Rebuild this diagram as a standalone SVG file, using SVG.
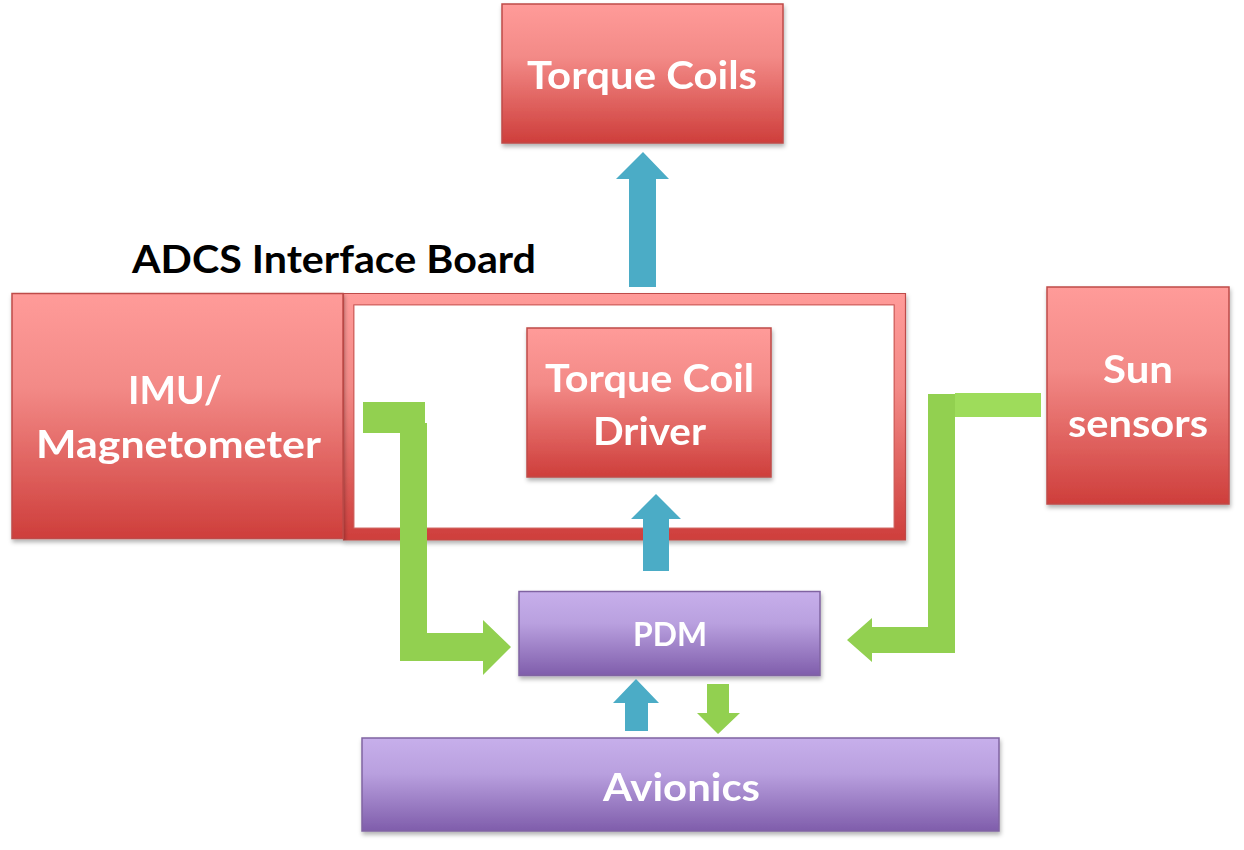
<svg xmlns="http://www.w3.org/2000/svg" width="1244" height="850" viewBox="0 0 1244 850">
<defs>
<linearGradient id="gRed" x1="0" y1="0" x2="0" y2="1">
<stop offset="0" stop-color="#ff9b99"/>
<stop offset="0.38" stop-color="#f38a87"/>
<stop offset="1" stop-color="#ce3e3b"/>
</linearGradient>
<linearGradient id="gPur" x1="0" y1="0" x2="0" y2="1">
<stop offset="0" stop-color="#c7afeb"/>
<stop offset="0.38" stop-color="#b9a0df"/>
<stop offset="1" stop-color="#7f5dab"/>
</linearGradient>
<filter id="sh" x="-5%" y="-5%" width="112%" height="115%">
<feDropShadow dx="1" dy="3" stdDeviation="2" flood-color="#000" flood-opacity="0.3"/>
</filter>
</defs>
<style>
.red{fill:url(#gRed);stroke:#be4b48;stroke-width:1.5}
.pur{fill:url(#gPur);stroke:#8064a2;stroke-width:1.5}
.lbl{font-family:Lato,"Liberation Sans",sans-serif;font-weight:bold;fill:#fff;font-size:39px;text-anchor:middle}
.blue{fill:#4bacc6}
.green{fill:#92d050}
</style>
<rect width="1244" height="850" fill="#fff"/>

<g id="torque-coils" filter="url(#sh)">
<rect class="red" x="502" y="4" width="281" height="139"/>
<text class="lbl" x="642" y="89" textLength="230" lengthAdjust="spacingAndGlyphs">Torque Coils</text>
</g>

<g id="adcs-board">
<path filter="url(#sh)" fill="url(#gRed)" fill-rule="evenodd" stroke="#be4b48" stroke-width="1.2" d="M343.5,293.5 H905.5 V540 H343.5 Z M354,305 V528 H894 V305 Z"/>
<rect x="354" y="305" width="540" height="223" fill="#fff" stroke="#d56a67" stroke-width="1"/>
<text x="132" y="273" font-family="Lato,'Liberation Sans',sans-serif" font-weight="bold" font-size="39" fill="#000" textLength="404" lengthAdjust="spacingAndGlyphs">ADCS Interface Board</text>
</g>

<g id="imu" filter="url(#sh)">
<rect class="red" x="12" y="293.5" width="331" height="245"/>
<text class="lbl" x="175" y="404" textLength="94" lengthAdjust="spacingAndGlyphs">IMU/</text>
<text class="lbl" x="178.5" y="458" textLength="285" lengthAdjust="spacingAndGlyphs">Magnetometer</text>
</g>

<g id="torque-coil-driver" filter="url(#sh)">
<rect class="red" x="527" y="328" width="244" height="149"/>
<text class="lbl" x="649.5" y="392" textLength="209" lengthAdjust="spacingAndGlyphs">Torque Coil</text>
<text class="lbl" x="649.5" y="445" textLength="113" lengthAdjust="spacingAndGlyphs">Driver</text>
</g>

<g id="sun-sensors" filter="url(#sh)">
<rect class="red" x="1047" y="287" width="182" height="217"/>
<text class="lbl" x="1138" y="383" textLength="70" lengthAdjust="spacingAndGlyphs">Sun</text>
<text class="lbl" x="1138" y="437" textLength="140" lengthAdjust="spacingAndGlyphs">sensors</text>
</g>

<g id="pdm" filter="url(#sh)">
<rect class="pur" x="519" y="591.5" width="301" height="84"/>
<text class="lbl" x="670" y="646" font-size="33" style="font-size:33px" textLength="74" lengthAdjust="spacingAndGlyphs">PDM</text>
</g>

<g id="avionics" filter="url(#sh)">
<rect class="pur" x="362" y="738" width="637" height="93"/>
<text class="lbl" x="681.5" y="801" textLength="157" lengthAdjust="spacingAndGlyphs">Avionics</text>
</g>

<g id="connectors">
<polygon class="blue" points="629,287 656,287 656,179 669,179 643,152 616,179 629,179"/>
<polygon class="blue" points="643,571 669,571 669,519 681,519 656,494 631,519 643,519"/>
<polygon class="blue" points="625,731 648,731 648,703 659,703 636,679 613,703 625,703"/>
<polygon class="green" points="707,684 729,684 729,713 740,713 718,734 697,713 707,713"/>
<rect class="green" x="363" y="402" width="62" height="31"/>
<polygon class="green" points="400,423 427,423 427,633 483,633 483,620 511,647 483,675 483,661 400,661"/>
<rect x="955" y="393" width="86" height="24" fill="#9edc5b"/>
<polygon class="green" points="928,394 955,394 955,653 872,653 872,662 847,640 872,618 872,627 928,627"/>
</g>
</svg>
